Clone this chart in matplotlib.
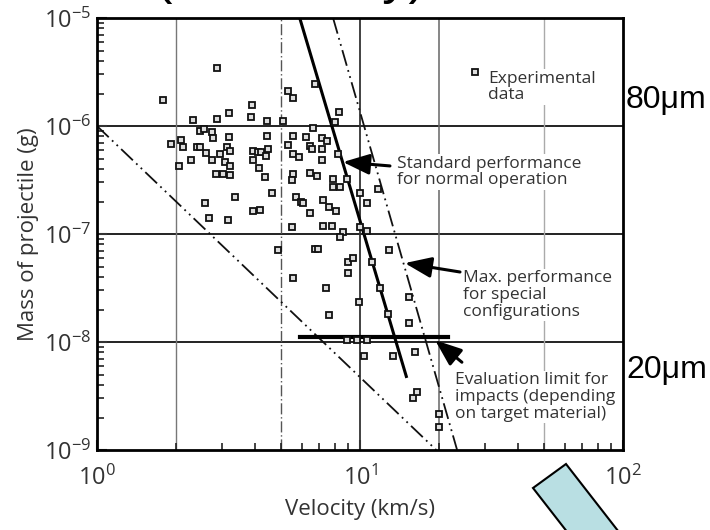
import matplotlib
matplotlib.use("Agg")
import matplotlib.pyplot as plt
from matplotlib.patches import Polygon
from matplotlib.ticker import LogLocator, NullFormatter

plt.rcParams['font.family'] = ['Open Sans', 'DejaVu Sans']
plt.rcParams['mathtext.fontset'] = 'custom'
plt.rcParams['mathtext.rm'] = 'Open Sans'
plt.rcParams['mathtext.it'] = 'Open Sans'

# experimental data (velocity km/s, mass g)
exp_velocity = [1.78, 2.86, 3.18, 2.86, 2.32, 2.46, 2.55, 2.74, 2.76, 3.18,
                1.91, 2.09, 2.12, 2.40, 2.46, 2.60, 2.94, 3.12, 3.20, 2.28,
                2.74, 3.07, 3.20, 2.05, 2.83, 3.01, 3.20, 3.35, 2.57, 2.67,
                3.15, 3.88, 3.85, 4.43, 5.10, 5.32, 5.56, 3.92, 4.09, 4.20,
                4.43, 4.47, 4.39, 5.32, 3.92, 4.13, 4.35, 6.74, 8.32, 8.04,
                6.63, 5.56, 6.23, 7.17, 7.49, 6.46, 6.57, 7.17, 5.56, 5.86,
                7.17, 8.25, 6.46, 6.87, 5.56, 5.51, 7.89, 8.93, 7.89, 8.39,
                4.63, 5.71, 5.97, 6.07, 7.23, 7.62, 8.11, 3.92, 4.17, 6.46,
                10.0, 10.6, 11.7, 5.51, 7.23, 7.83, 8.61, 8.39, 10.0, 10.6,
                4.88, 6.74, 6.92, 9.00, 9.40, 12.9, 9.00, 11.1, 5.56, 7.43,
                11.9, 15.4, 9.91, 7.62, 12.8, 15.4, 8.93, 9.75, 10.6, 10.4,
                13.3, 16.2, 15.9, 16.5, 20.0, 20.0]
exp_mass = [1.74e-6, 3.44e-6, 1.32e-6, 1.16e-6, 1.14e-6, 8.99e-7, 9.38e-7, 8.80e-7, 7.74e-7, 7.91e-7,
            6.81e-7, 7.42e-7, 6.39e-7, 6.39e-7, 6.39e-7, 5.62e-7, 5.51e-7, 6.39e-7, 5.87e-7, 4.84e-7,
            4.84e-7, 4.64e-7, 4.27e-7, 4.27e-7, 3.60e-7, 3.60e-7, 3.52e-7, 2.20e-7, 1.94e-7, 1.41e-7,
            1.35e-7, 1.56e-6, 1.21e-6, 1.11e-6, 1.11e-6, 2.11e-6, 1.82e-6, 5.87e-7, 5.74e-7, 5.74e-7,
            8.08e-7, 6.12e-7, 5.28e-7, 6.67e-7, 4.84e-7, 4.08e-7, 3.37e-7, 2.45e-6, 1.35e-6, 1.09e-6,
            9.58e-7, 8.08e-7, 7.91e-7, 7.74e-7, 7.26e-7, 6.53e-7, 6.12e-7, 6.12e-7, 5.51e-7, 5.16e-7,
            4.84e-7, 5.51e-7, 3.67e-7, 3.44e-7, 3.60e-7, 3.16e-7, 3.23e-7, 3.23e-7, 2.72e-7, 2.72e-7,
            2.40e-7, 2.20e-7, 1.98e-7, 1.94e-7, 2.07e-7, 1.78e-7, 1.63e-7, 1.63e-7, 1.67e-7, 1.56e-7,
            2.40e-7, 1.94e-7, 2.61e-7, 1.16e-7, 1.19e-7, 1.19e-7, 1.04e-7, 9.38e-8, 1.16e-7, 1.07e-7,
            7.11e-8, 7.26e-8, 7.26e-8, 5.51e-8, 6.00e-8, 7.11e-8, 4.36e-8, 5.51e-8, 3.92e-8, 3.16e-8,
            3.16e-8, 2.61e-8, 2.35e-8, 1.78e-8, 1.82e-8, 1.50e-8, 1.04e-8, 1.04e-8, 1.04e-8, 7.42e-9,
            7.42e-9, 8.08e-9, 3.03e-9, 3.44e-9, 2.16e-9, 1.63e-9]

# limit lines
low_v = [1.0, 19.5]
low_m = [1e-6, 1e-9]
std_v = [5.9, 15.0]
std_m = [1e-5, 4.8e-9]
max_v = [7.9, 23.4]
max_m = [1e-5, 1e-9]
eval_v = [5.9, 21.6]
eval_m = [1.11e-8, 1.11e-8]

dashdotdot = (0, (9, 2.5, 1, 2.5, 1, 2.5))
txt_color = '#333333'

fig = plt.figure(figsize=(7.1, 5.3), dpi=100)
ax = fig.add_axes([0.1366, 0.1509, 0.7409, 0.8151])
ax.set_xscale('log')
ax.set_yscale('log')
ax.set_xlim(1, 100)
ax.set_ylim(1e-9, 1e-5)

# grid
for m in [1e-8, 1e-7, 1e-6]:
    ax.axhline(m, color='#111111', lw=1.3, zorder=1)
ax.axvline(2, color='#777777', lw=1.0, zorder=1)
ax.axvline(5, color='#555555', lw=1.0, ls=(0, (8, 2, 1, 2)), zorder=1)
ax.axvline(10, color='#333333', lw=1.3, zorder=1)
ax.axvline(20, color='#666666', lw=1.1, zorder=1)
ax.axvline(50, color='#aaaaaa', lw=1.0, zorder=1)

ax.plot(low_v, low_m, color='#111111', lw=1.3, ls=dashdotdot, zorder=2)
ax.plot(std_v, std_m, color='black', lw=2.2, zorder=3)
ax.plot(max_v, max_m, color='#111111', lw=1.3, ls=dashdotdot, zorder=2)
ax.plot(eval_v, eval_m, color='black', lw=3, zorder=3)

ax.plot(exp_velocity, exp_mass, 's', ms=4, mfc='#dddddd', mec='#111111', mew=1.3,
        ls='none', zorder=4)

# legend marker and annotations
ax.plot([27.4], [3.16e-6], 's', ms=4, mfc='#dddddd', mec='#111111', mew=1.3)
box = dict(facecolor='white', edgecolor='none', pad=1)
tkw = dict(fontsize=12.5, color=txt_color, va='center', ha='left', linespacing=1.05,
           bbox=box, zorder=5)
ax.text(30.7, 2.3e-6, 'Experimental\ndata', **tkw)
ax.text(13.8, 3.75e-7, 'Standard performance\nfor normal operation', **tkw)
ax.text(24.6, 2.72e-8, 'Max. performance\nfor special\nconfigurations', **tkw)
ax.text(23.0, 3.1e-9, 'Evaluation limit for\nimpacts (depending\non target material)', **tkw)

arrow = dict(arrowstyle='-|>,head_length=0.9,head_width=0.35', color='black',
             lw=2.2, mutation_scale=18, shrinkA=0, shrinkB=0)
ax.annotate('', xy=(8.61, 4.64e-7), xytext=(13.0, 4.27e-7), arrowprops=arrow, zorder=6)
ax.annotate('', xy=(14.8, 5.38e-8), xytext=(24.0, 4.45e-8), arrowprops=arrow, zorder=6)
ax.annotate('', xy=(19.3, 1.04e-8), xytext=(24.4, 6.5e-9), arrowprops=arrow, zorder=6)

# axes styling
for sp in ax.spines.values():
    sp.set_linewidth(2)
ax.xaxis.set_major_locator(LogLocator(base=10, numticks=5))
ax.yaxis.set_major_locator(LogLocator(base=10, numticks=6))
ax.xaxis.set_minor_locator(LogLocator(base=10, subs=range(2, 10), numticks=20))
ax.yaxis.set_minor_locator(LogLocator(base=10, subs=range(2, 10), numticks=20))
ax.xaxis.set_minor_formatter(NullFormatter())
ax.yaxis.set_minor_formatter(NullFormatter())
ax.tick_params(which='major', direction='in', length=7, width=1.5,
               labelsize=17, colors=txt_color)
ax.tick_params(which='minor', direction='in', length=5, width=1.2, colors='#222222')
ax.tick_params(axis='x', which='major', pad=11)
ax.tick_params(axis='y', which='major', pad=4)

ax.set_xlabel('Velocity (km/s)', fontsize=16, color=txt_color, labelpad=6)
ax.set_ylabel('Mass of projectile (g)', fontsize=16, color=txt_color, labelpad=4)

# slide annotations outside the plot
fig.text(0.8817, 0.811, '80μm', fontsize=23, family='Liberation Sans', va='center')
fig.text(0.8817, 0.302, '20μm', fontsize=23, family='Liberation Sans', va='center')
# slide title above, mostly cut off by the top edge
fig.text(0.218, 1.014, '(Sensitivity)', fontsize=38, family='Liberation Sans',
         va='baseline', ha='left')

W, H = 710.0, 530.0
corners = [(566, 464), (533, 488), (631, 614), (664, 590)]
shape = Polygon([(x / W, 1 - y / H) for x, y in corners], closed=True,
                transform=fig.transFigure, facecolor='#b9dfe3', edgecolor='black', lw=1.5)
fig.patches.append(shape)

fig.savefig('out.png', dpi=100)
